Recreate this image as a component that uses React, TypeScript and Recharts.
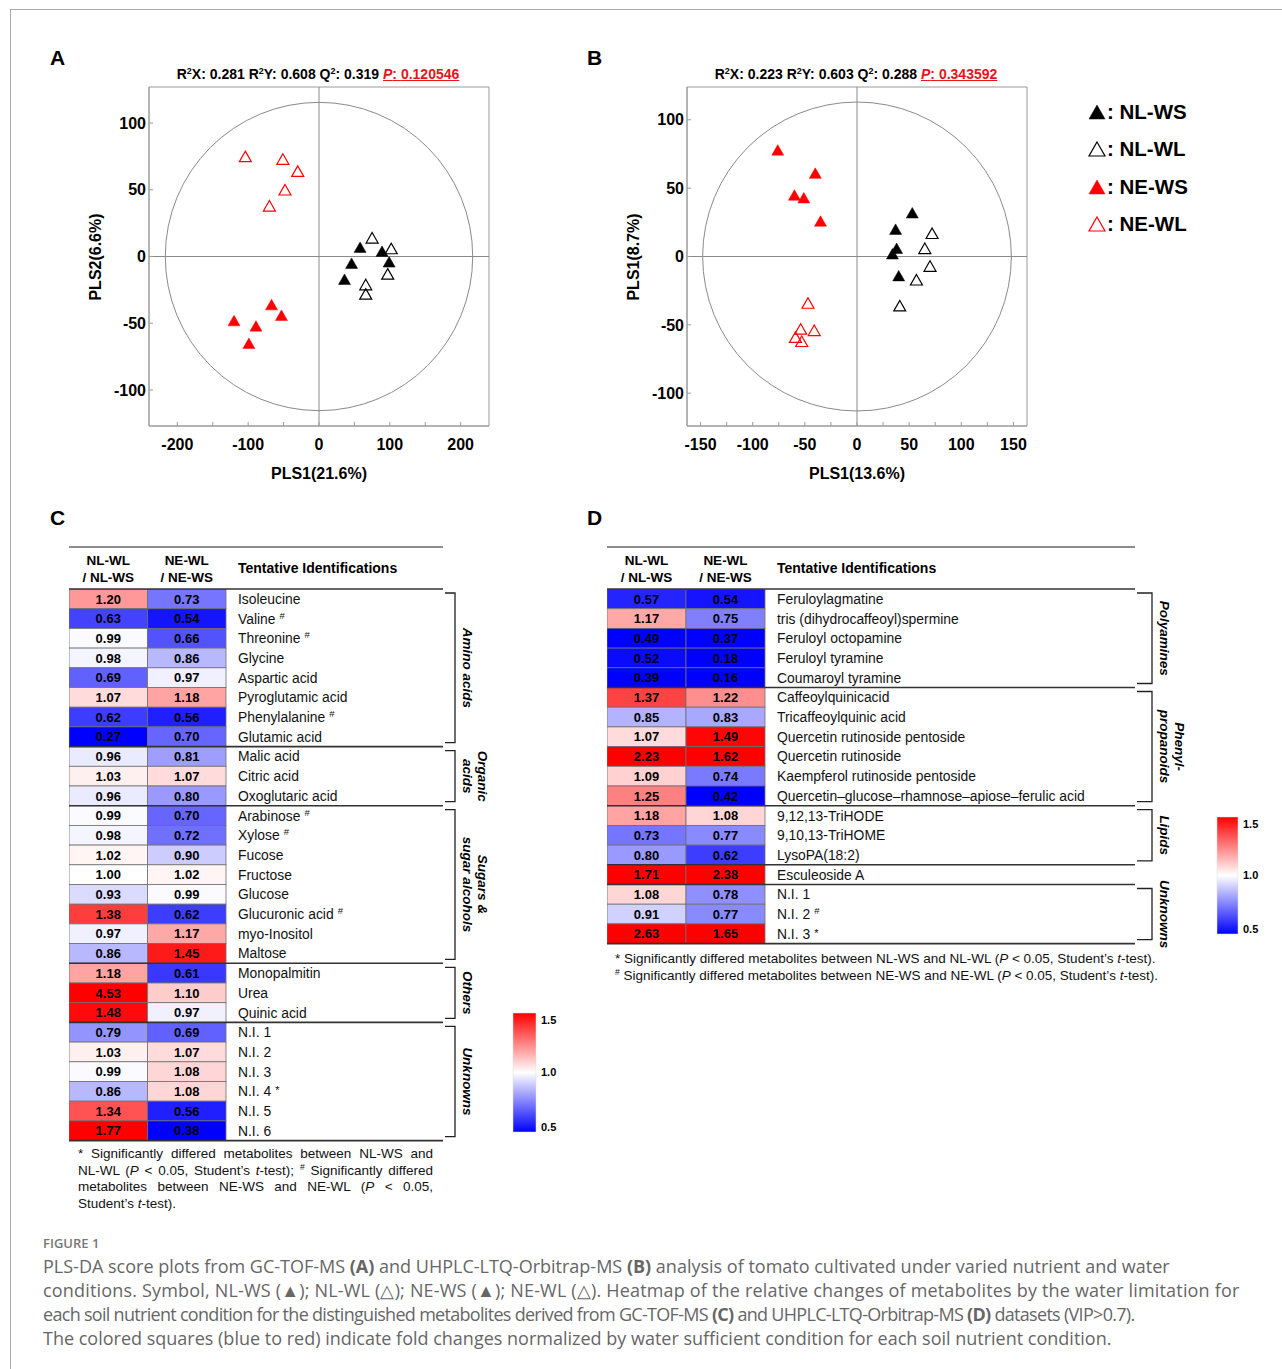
import React from "react";
import { ScatterChart, Scatter, XAxis, YAxis, ReferenceLine, ReferenceArea } from "recharts";

type Pt = { x: number; y: number };

// ---- Panel A: GC-TOF-MS PLS-DA scores
const nlwsA: Pt[] = [{ x: 58, y: 7 }, { x: 89, y: 4 }, { x: 46, y: -5 }, { x: 99, y: -4 }, { x: 36, y: -17 }];
const nlwlA: Pt[] = [{ x: 75, y: 14 }, { x: 102, y: 6 }, { x: 97, y: -13 }, { x: 66, y: -21 }, { x: 66, y: -28 }];
const newsA: Pt[] = [{ x: -120, y: -48 }, { x: -89, y: -52 }, { x: -99, y: -65 }, { x: -67, y: -36 }, { x: -53, y: -44 }];
const newlA: Pt[] = [{ x: -104, y: 75 }, { x: -51, y: 73 }, { x: -30, y: 64 }, { x: -48, y: 50 }, { x: -70, y: 38 }];
const xTicksA = [-200, -150, -100, -50, 0, 50, 100, 150, 200];
const yTicksA = [-100, -50, 0, 50, 100];
const ellipseA = [217, 115.5];

// ---- Panel B: UHPLC-LTQ-Orbitrap-MS PLS-DA scores
const nlwsB: Pt[] = [{ x: 53, y: 32 }, { x: 37, y: 20 }, { x: 38, y: 6 }, { x: 34, y: 2 }, { x: 40, y: -14 }];
const nlwlB: Pt[] = [{ x: 72, y: 17 }, { x: 65, y: 6 }, { x: 70, y: -7 }, { x: 57, y: -17 }, { x: 41, y: -36 }];
const newsB: Pt[] = [{ x: -76, y: 78 }, { x: -40, y: 61 }, { x: -60, y: 45 }, { x: -51, y: 43 }, { x: -35, y: 26 }];
const newlB: Pt[] = [{ x: -47, y: -34 }, { x: -54, y: -53 }, { x: -41, y: -54 }, { x: -59, y: -59 }, { x: -53, y: -62 }];
const xTicksB = [-150, -125, -100, -75, -50, -25, 0, 25, 50, 75, 100, 125, 150];
const yTicksB = [-100, -50, 0, 50, 100];
const ellipseB = [148, 113];

const groupNames = ["NL-WS", "NL-WL", "NE-WS", "NE-WL"];
const groupColors = ["#000000", "#000000", "#ff0000", "#ff0000"];
const groupFilled = [true, false, true, false];

// ---- Panel C: GC-TOF-MS heatmap
const namesC = [
  "Isoleucine", "Valine", "Threonine", "Glycine", "Aspartic acid", "Pyroglutamic acid", "Phenylalanine", "Glutamic acid",
  "Malic acid", "Citric acid", "Oxoglutaric acid",
  "Arabinose", "Xylose", "Fucose", "Fructose", "Glucose", "Glucuronic acid", "myo-Inositol", "Maltose",
  "Monopalmitin", "Urea", "Quinic acid",
  "N.I. 1", "N.I. 2", "N.I. 3", "N.I. 4", "N.I. 5", "N.I. 6",
];
const marksC = ["", "#", "#", "", "", "", "#", "", "", "", "", "#", "#", "", "", "", "#", "", "", "", "", "", "", "", "", "*", "", ""];
const nlC = [1.2, 0.63, 0.99, 0.98, 0.69, 1.07, 0.62, 0.27, 0.96, 1.03, 0.96, 0.99, 0.98, 1.02, 1.0, 0.93, 1.38, 0.97, 0.86, 1.18, 4.53, 1.48, 0.79, 1.03, 0.99, 0.86, 1.34, 1.77];
const neC = [0.73, 0.54, 0.66, 0.86, 0.97, 1.18, 0.56, 0.7, 0.81, 1.07, 0.8, 0.7, 0.72, 0.9, 1.02, 0.99, 0.62, 1.17, 1.45, 0.61, 1.1, 0.97, 0.69, 1.07, 1.08, 1.08, 0.56, 0.38];
const groupSizesC = [8, 3, 8, 3, 6];
const groupLabelsC = [["Amino acids"], ["Organic", "acids"], ["Sugars &", "sugar alcohols"], ["Others"], ["Unknowns"]];

// ---- Panel D: UHPLC-LTQ-Orbitrap-MS heatmap
const namesD = [
  "Feruloylagmatine", "tris (dihydrocaffeoyl)spermine", "Feruloyl octopamine", "Feruloyl tyramine", "Coumaroyl tyramine",
  "Caffeoylquinicacid", "Tricaffeoylquinic acid", "Quercetin rutinoside pentoside", "Quercetin rutinoside",
  "Kaempferol rutinoside pentoside", "Quercetin\u2013glucose\u2013rhamnose\u2013apiose\u2013ferulic acid",
  "9,12,13-TriHODE", "9,10,13-TriHOME", "LysoPA(18:2)",
  "Esculeoside A",
  "N.I. 1", "N.I. 2", "N.I. 3",
];
const marksD = ["", "", "", "", "", "", "", "", "", "", "", "", "", "", "", "", "#", "*"];
const nlD = [0.57, 1.17, 0.49, 0.52, 0.39, 1.37, 0.85, 1.07, 2.23, 1.09, 1.25, 1.18, 0.73, 0.8, 1.71, 1.08, 0.91, 2.63];
const neD = [0.54, 0.75, 0.37, 0.18, 0.16, 1.22, 0.83, 1.49, 1.62, 0.74, 0.42, 1.08, 0.77, 0.62, 2.38, 0.78, 0.77, 1.65];
const groupSizesD = [5, 6, 3, 1, 3];
const groupLabelsD = [["Polyamines"], ["Phenyl-", "propanoids"], ["Lipids"], [], ["Unknowns"]];

const colHeads = [["NL-WL", "/ NL-WS"], ["NE-WL", "/ NE-WS"]];
const scaleTicks = ["1.5", "1.0", "0.5"];

const FONT = '"Liberation Sans", Arial, Helvetica, sans-serif';
const FRAME = "#9a9a9a";

function heat(v: number) {
  const t = Math.max(-1, Math.min(1, (v - 1) / 0.5));
  if (t >= 0) {
    const c = Math.round(255 * (1 - t));
    return `rgb(255,${c},${c})`;
  }
  const c = Math.round(255 * (1 + t));
  return `rgb(${c},${c},255)`;
}

function Tri({ cx, cy, color, filled, w = 12, h = 10.5 }: any) {
  if (cx == null || cy == null) return null;
  const pts = `${cx},${cy - h / 2} ${cx + w / 2},${cy + h / 2} ${cx - w / 2},${cy + h / 2}`;
  return filled
    ? <polygon points={pts} fill={color} stroke={color} strokeWidth={0.5} />
    : <polygon points={pts} fill="none" stroke={color} strokeWidth={1.2} />;
}

const EllipseShape = (p: any) => (
  <ellipse cx={p.x + p.width / 2} cy={p.y + p.height / 2} rx={p.width / 2} ry={p.height / 2}
    fill="none" stroke="#8a8a8a" strokeWidth={1} />
);

function ScoreChart({ series, xDomain, yDomain, xTicks, yTicks, labelEvery, ellipse, margin }: any) {
  const tickStyle = { fontSize: 16, fontWeight: "bold", fill: "#000", fontFamily: FONT };
  return (
    <ScatterChart width={540} height={500} margin={margin}>
      <XAxis type="number" dataKey="x" domain={xDomain} ticks={xTicks} interval={0} allowDataOverflow
        tickFormatter={(v: number) => (v % labelEvery === 0 ? String(v) : "")}
        tick={tickStyle} tickSize={-4} tickMargin={17} height={30}
        axisLine={{ stroke: FRAME }} tickLine={{ stroke: FRAME }} />
      <YAxis type="number" dataKey="y" domain={yDomain} ticks={yTicks} interval={0} allowDataOverflow width={50}
        tick={tickStyle} tickSize={-4} tickMargin={7}
        axisLine={{ stroke: FRAME }} tickLine={{ stroke: FRAME }} />
      <ReferenceArea x1={xDomain[0]} x2={xDomain[1]} y1={yDomain[0]} y2={yDomain[1]}
        fill="none" stroke={FRAME} ifOverflow="visible" />
      <ReferenceArea x1={-ellipse[0]} x2={ellipse[0]} y1={-ellipse[1]} y2={ellipse[1]}
        ifOverflow="visible" shape={EllipseShape} />
      <ReferenceLine x={0} stroke="#8a8a8a" />
      <ReferenceLine y={0} stroke="#8a8a8a" />
      {series.map((data: Pt[], i: number) => (
        <Scatter key={groupNames[i]} name={groupNames[i]} data={data} isAnimationActive={false}
          shape={(p: any) => <Tri cx={p.cx} cy={p.cy} color={groupColors[i]} filled={groupFilled[i]} />} />
      ))}
    </ScatterChart>
  );
}

function HeatTable({ names, marks, colA, colB, colW, nameW, rowH }: any) {
  const n = names.length;
  const a = colA.map((v: number, i: number) => ({ col: 0, row: i, v }));
  const b = colB.map((v: number, i: number) => ({ col: 1, row: i, v }));
  const cell = (p: any) => (
    <g>
      <rect x={p.cx - colW / 2} y={p.cy - rowH / 2} width={colW} height={rowH}
        fill={heat(p.payload.v)} stroke="#6f6f6f" strokeWidth={0.8} />
      <text x={p.cx} y={p.cy} dy="0.36em" textAnchor="middle" fontSize={13} fontWeight="bold"
        fontFamily={FONT} fill="#000">{p.payload.v.toFixed(2)}</text>
    </g>
  );
  const nameTick = (p: any) => {
    const i = p.payload.value;
    const m = marks[i];
    return (
      <text x={p.x} y={p.y} dy="0.36em" textAnchor="start" fontSize={13.9} fontFamily={FONT} fill="#111">
        {names[i]}
        {m ? <tspan dx={4} dy={m === "#" ? -5 : -2} fontSize={m === "#" ? 9.5 : 11}>{m}</tspan> : null}
      </text>
    );
  };
  return (
    <ScatterChart width={2 * colW + nameW} height={n * rowH} margin={{ top: 0, right: 0, bottom: 0, left: 0 }}>
      <XAxis type="number" dataKey="col" domain={[-0.5, 1.5]} hide />
      <YAxis type="number" dataKey="row" domain={[-0.5, n - 0.5]} reversed orientation="right"
        ticks={names.map((_: string, i: number) => i)} interval={0} width={nameW}
        axisLine={false} tickLine={false} tickSize={0} tickMargin={12} tick={nameTick} />
      <Scatter data={a} shape={cell} isAnimationActive={false} />
      <Scatter data={b} shape={cell} isAnimationActive={false} />
    </ScatterChart>
  );
}

function TableDeco({ left, colW, right, top, rowH, sizes, labels, bx, barX, barY, barW, barH, gid }: any) {
  let cum = 0;
  const spans = sizes.map((s: number) => {
    const s0 = cum;
    cum += s;
    return [top + s0 * rowH, top + cum * rowH];
  });
  const hx = right + 2;
  return (
    <g fontFamily={FONT}>
      <line x1={left} x2={right} y1={547} y2={547} stroke="#666" strokeWidth={1.6} />
      <line x1={left} x2={right} y1={top} y2={top} stroke="#333" strokeWidth={1.5} />
      {colHeads.map((h, i) => (
        <text key={i} x={left + colW * (i + 0.5)} textAnchor="middle" fontSize={13.5} fontWeight="bold">
          <tspan x={left + colW * (i + 0.5)} y={565}>{h[0]}</tspan>
          <tspan x={left + colW * (i + 0.5)} y={582}>{h[1]}</tspan>
        </text>
      ))}
      <text x={left + 2 * colW + 12} y={573} fontSize={14} fontWeight="bold">Tentative Identifications</text>
      {spans.map(([y0, y1]: number[], i: number) => (
        <g key={i}>
          <line x1={left} x2={right} y1={y1} y2={y1} stroke="#333" strokeWidth={1.6} />
          {labels[i].length > 0 && (
            <path d={`M${hx},${y0 + 4} H${bx} V${y1 - 4} H${hx}`} fill="none" stroke="#222" strokeWidth={1.3} />
          )}
          {labels[i].map((t: string, j: number) => {
            const lx = labels[i].length === 1 ? bx + 13 : bx + 28 - j * 15;
            const ly = (y0 + y1) / 2;
            return (
              <text key={j} transform={`translate(${lx},${ly}) rotate(90)`} textAnchor="middle" dy="0.35em"
                fontSize={13.5} fontWeight="bold" fontStyle="italic">{t}</text>
            );
          })}
        </g>
      ))}
      <defs>
        <linearGradient id={gid} x1="0" y1="0" x2="0" y2="1">
          <stop offset="0%" stopColor="#ff0000" />
          <stop offset="50%" stopColor="#ffffff" />
          <stop offset="100%" stopColor="#0000ff" />
        </linearGradient>
      </defs>
      <rect x={barX} y={barY} width={barW} height={barH} fill={`url(#${gid})`} stroke="#ddd" strokeWidth={0.5} />
      {scaleTicks.map((t, i) => (
        <text key={t} x={barX + barW + 5} y={[barY + 7, barY + barH / 2, barY + barH - 5][i]} dy="0.35em"
          fontSize={11} fontWeight="bold">{t}</text>
      ))}
    </g>
  );
}

const Sup = ({ children, size = 8.5 }: any) => (
  <span style={{ fontSize: size, position: "relative", top: -5, lineHeight: 0 }}>{children}</span>
);

function StatTitle({ cx, r2x, r2y, q2, p }: any) {
  return (
    <div style={{
      position: "absolute", left: cx, top: 65, transform: "translateX(-50%)", whiteSpace: "nowrap",
      fontSize: 14, fontWeight: "bold", lineHeight: "18px", fontFamily: FONT,
    }}>
      R<Sup size={9}>2</Sup>X: {r2x} R<Sup size={9}>2</Sup>Y: {r2y} Q<Sup size={9}>2</Sup>: {q2}{" "}
      <span style={{ color: "#e8141b", textDecoration: "underline" }}><i>P</i>: {p}</span>
    </div>
  );
}

const footC = [
  <>* Significantly differed metabolites between NL-WS and</>,
  <>NL-WL (<i>P</i> &lt; 0.05, Student’s <i>t</i>-test); <Sup>#</Sup> Significantly differed</>,
  <>metabolites between NE-WS and NE-WL (<i>P</i> &lt; 0.05,</>,
  <>Student’s <i>t</i>-test).</>,
];

const captionLines = [
  <>PLS-DA score plots from GC-TOF-MS <b>(A)</b> and UHPLC-LTQ-Orbitrap-MS <b>(B)</b> analysis of tomato cultivated under varied nutrient and water</>,
  <>conditions. Symbol, NL-WS (▲); NL-WL (△); NE-WS (▲); NE-WL (△). Heatmap of the relative changes of metabolites by the water limitation for</>,
  <>each soil nutrient condition for the distinguished metabolites derived from GC-TOF-MS <b>(C)</b> and UHPLC-LTQ-Orbitrap-MS <b>(D)</b> datasets (VIP&gt;0.7).</>,
  <>The colored squares (blue to red) indicate fold changes normalized by water sufficient condition for each soil nutrient condition.</>,
];
const captionSpacing = [0, 0.18, -0.7, 0];

export default function App() {
  const abs = (left: number, top: number): React.CSSProperties => ({ position: "absolute", left, top });
  return (
    <div style={{
      position: "absolute", left: 0, top: 0, width: 1282, height: 1369, background: "#fff",
      overflow: "hidden", fontFamily: FONT, color: "#000",
    }}>
      <div style={{ position: "absolute", left: 10, top: 9, right: 0, bottom: 0, borderTop: "1px solid #aaa", borderLeft: "1px solid #aaa" }} />

      <div style={abs(0, 0)}>
        <ScoreChart series={[nlwsA, nlwlA, newsA, newlA]} xDomain={[-240, 240]} yDomain={[-127, 127]}
          xTicks={xTicksA} yTicks={yTicksA} labelEvery={100} ellipse={ellipseA}
          margin={{ top: 87, right: 51, bottom: 44, left: 99 }} />
      </div>
      <div style={abs(540, 0)}>
        <ScoreChart series={[nlwsB, nlwlB, newsB, newlB]} xDomain={[-163, 163]} yDomain={[-124, 124]}
          xTicks={xTicksB} yTicks={yTicksB} labelEvery={50} ellipse={ellipseB}
          margin={{ top: 87, right: 53, bottom: 44, left: 97 }} />
      </div>

      <div style={abs(69, 589)}>
        <HeatTable names={namesC} marks={marksC} colA={nlC} colB={neC} colW={78.5} nameW={217} rowH={19.7} />
      </div>
      <div style={abs(607, 589)}>
        <HeatTable names={namesD} marks={marksD} colA={nlD} colB={neD} colW={79} nameW={370} rowH={19.7} />
      </div>

      <svg width={1282} height={1369} style={{ position: "absolute", left: 0, top: 0, pointerEvents: "none" }}>
        <g fontFamily={FONT} fontWeight="bold">
          <text x={50} y={64.5} fontSize={21}>A</text>
          <text x={587} y={64.5} fontSize={21}>B</text>
          <text x={50} y={524.5} fontSize={21}>C</text>
          <text x={587} y={524.5} fontSize={21}>D</text>
          <text x={319} y={479} fontSize={16} textAnchor="middle">PLS1(21.6%)</text>
          <text x={857} y={479} fontSize={16} textAnchor="middle">PLS1(13.6%)</text>
          <text transform="translate(95,257) rotate(-90)" fontSize={16} textAnchor="middle" dy="0.35em">PLS2(6.6%)</text>
          <text transform="translate(633,257) rotate(-90)" fontSize={16} textAnchor="middle" dy="0.35em">PLS1(8.7%)</text>
          {groupNames.map((g, i) => (
            <g key={g}>
              <Tri cx={1097} cy={[112, 149, 187, 224][i]} color={groupColors[i]} filled={groupFilled[i]} w={16} h={14} />
              <text x={1107} y={[112, 149, 187, 224][i]} dy="0.36em" fontSize={20.5}>: {g}</text>
            </g>
          ))}
        </g>
        <TableDeco left={69} colW={78.5} right={443} top={589} rowH={19.7} sizes={groupSizesC} labels={groupLabelsC}
          bx={455} barX={513} barY={1013} barW={23} barH={119} gid="gradC" />
        <TableDeco left={607} colW={79} right={1135} top={589} rowH={19.7} sizes={groupSizesD} labels={groupLabelsD}
          bx={1152} barX={1217} barY={817} barW={21} barH={117} gid="gradD" />
      </svg>

      <StatTitle cx={318} r2x="0.281" r2y="0.608" q2="0.319" p="0.120546" />
      <StatTitle cx={856} r2x="0.223" r2y="0.603" q2="0.288" p="0.343592" />

      <div style={{ position: "absolute", left: 78, top: 1146, width: 355, fontSize: 13.5, lineHeight: "16.5px", color: "#111" }}>
        {footC.map((l, i) => (
          <div key={i} style={{ height: 16.5, textAlign: "justify", textAlignLast: i < footC.length - 1 ? "justify" : "left", whiteSpace: "nowrap" }}>{l}</div>
        ))}
      </div>
      <div style={{ position: "absolute", left: 615, top: 950, fontSize: 13.5, lineHeight: "17px", color: "#111", whiteSpace: "nowrap" }}>
        <div style={{ height: 17 }}>* Significantly differed metabolites between NL-WS and NL-WL (<i>P</i> &lt; 0.05, Student’s <i>t</i>-test).</div>
        <div style={{ height: 17 }}><Sup>#</Sup> Significantly differed metabolites between NE-WS and NE-WL (<i>P</i> &lt; 0.05, Student’s <i>t</i>-test).</div>
      </div>

      <div style={{ position: "absolute", left: 43, top: 1234, fontFamily: '"Open Sans", sans-serif', fontSize: 13, fontWeight: 600, color: "#777" }}>FIGURE 1</div>
      <div style={{ position: "absolute", left: 43, top: 1254, fontFamily: '"Open Sans", sans-serif', fontSize: 18, lineHeight: "24px", color: "#666", whiteSpace: "nowrap" }}>
        {captionLines.map((l, i) => <div key={i} style={{ height: 24, letterSpacing: captionSpacing[i] }}>{l}</div>)}
      </div>
    </div>
  );
}
